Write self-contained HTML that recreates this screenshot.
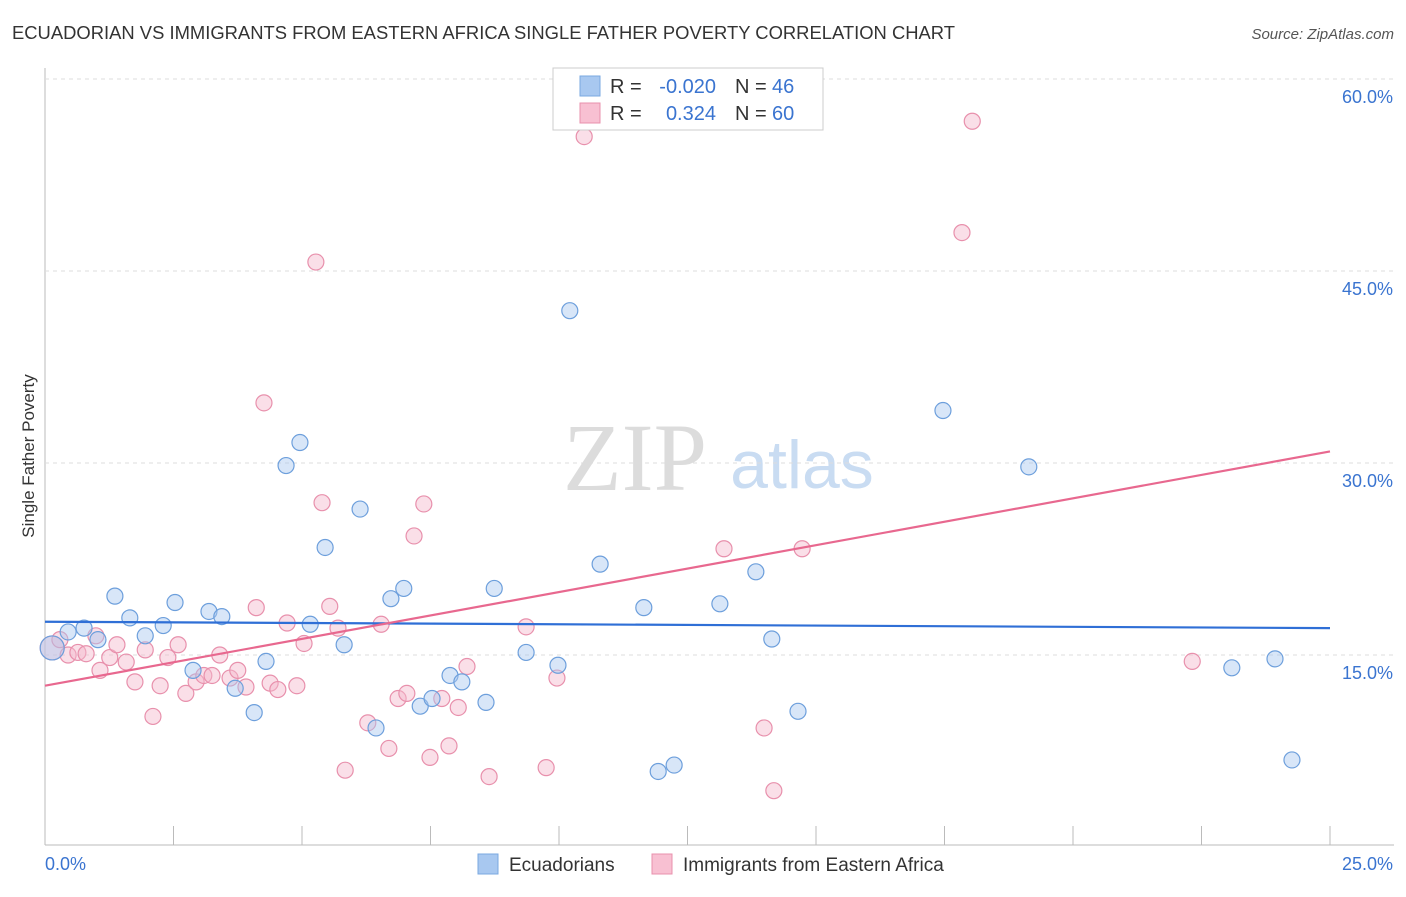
<!DOCTYPE html>
<html><head><meta charset="utf-8"><style>
body{margin:0;background:#fff;font-family:"Liberation Sans",sans-serif;}
</style></head><body>
<svg id="c" width="1406" height="892" style="font-family:'Liberation Sans',sans-serif">
<text x="12" y="39" font-size="18" fill="#333" textLength="943" lengthAdjust="spacingAndGlyphs">ECUADORIAN VS IMMIGRANTS FROM EASTERN AFRICA SINGLE FATHER POVERTY CORRELATION CHART</text>
<text x="1394" y="39" font-size="15" fill="#555" font-style="italic" text-anchor="end">Source: ZipAtlas.com</text>
<text x="34" y="456" font-size="17" fill="#333" text-anchor="middle" transform="rotate(-90 34 456)">Single Father Poverty</text>
<g><text x="635" y="490" font-size="96" fill="#dcdcdc" text-anchor="middle" style="font-family:'Liberation Serif',serif">ZIP</text><text x="802" y="488" font-size="68" fill="#c9dcf2" text-anchor="middle">atlas</text></g>
<g id="grid"></g><g id="marks"></g>
<g>
<rect x="553" y="68" width="270" height="62" fill="#fff" stroke="#ccc"/>
<rect x="580" y="76" width="20" height="20" fill="#a8c8f0" stroke="#7aa8e0"/>
<rect x="580" y="103" width="20" height="20" fill="#f8c0d2" stroke="#e890ac"/>
<text x="610" y="93" font-size="20" fill="#333">R =</text>
<text x="716" y="93" font-size="20" fill="#3a74d0" text-anchor="end">-0.020</text>
<text x="735" y="93" font-size="20" fill="#333">N =</text>
<text x="772" y="93" font-size="20" fill="#3a74d0">46</text>
<text x="610" y="120" font-size="20" fill="#333">R =</text>
<text x="716" y="120" font-size="20" fill="#3a74d0" text-anchor="end">0.324</text>
<text x="735" y="120" font-size="20" fill="#333">N =</text>
<text x="772" y="120" font-size="20" fill="#3a74d0">60</text>
</g>
<g>
<rect x="478" y="854" width="20" height="20" fill="#a8c8f0" stroke="#7aa8e0"/>
<text x="509" y="871" font-size="19" fill="#333">Ecuadorians</text>
<rect x="652" y="854" width="20" height="20" fill="#f8c0d2" stroke="#e890ac"/>
<text x="683" y="871" font-size="19" fill="#333">Immigrants from Eastern Africa</text>
</g>
</svg>
<script>
const xTicks=[0,2.5,5,7.5,10,12.5,15,17.5,20,22.5,25];
const yTicks=[15,30,45,60];
const yTickLabels=["15.0%","30.0%","45.0%","60.0%"];
const blueX=[0.14,0.45,0.76,1.03,1.36,1.65,1.95,2.30,2.53,2.88,3.19,3.44,3.70,4.07,4.30,4.69,4.96,5.16,5.45,5.82,6.13,6.44,6.73,6.98,7.30,7.53,7.88,8.11,8.58,8.74,9.36,9.98,10.21,10.80,11.65,11.93,12.24,13.13,13.83,14.14,14.65,17.47,19.14,23.09,23.93,24.26];
const blueY=[15.55,16.8,17.1,16.2,19.6,17.9,16.5,17.3,19.1,13.8,18.4,18.0,12.4,10.5,14.5,29.8,31.6,17.4,23.4,15.8,26.4,9.3,19.4,20.2,11.0,11.6,13.4,12.9,11.3,20.2,15.2,14.2,41.9,22.1,18.7,5.9,6.4,19.0,21.5,16.25,10.6,34.1,29.7,14.0,14.7,6.8];
const pinkX=[0.14,0.29,0.45,0.64,0.80,0.99,1.07,1.26,1.40,1.58,1.75,1.95,2.10,2.24,2.39,2.59,2.74,2.94,3.09,3.25,3.40,3.60,3.75,3.91,4.11,4.26,4.38,4.53,4.71,4.90,5.04,5.27,5.39,5.54,5.70,5.84,6.28,6.54,6.69,6.87,7.04,7.18,7.37,7.49,7.72,7.86,8.04,8.21,8.64,9.36,9.75,9.96,10.49,13.21,13.99,14.18,14.73,17.84,18.04,22.32];
const pinkY=[15.55,16.2,15.0,15.2,15.1,16.5,13.8,14.8,15.8,14.45,12.9,15.4,10.2,12.6,14.8,15.8,12.0,12.9,13.4,13.4,15.0,13.2,13.8,12.5,18.7,34.7,12.8,12.3,17.5,12.6,15.9,45.7,26.9,18.8,17.1,6.0,9.7,17.4,7.7,11.6,12.0,24.3,26.8,7.0,11.6,7.9,10.9,14.1,5.5,17.2,6.2,13.2,55.5,23.3,9.3,4.4,23.3,48.0,56.7,14.5];
const blueTrend=[17.6,17.1];
const pinkTrend=[12.6,30.9];
const NS="http://www.w3.org/2000/svg";
const X=v=>45+v*51.4, Y=v=>847-v*12.8;
function mk(t,a,p){const e=document.createElementNS(NS,t);for(const k in a)e.setAttribute(k,a[k]);p.appendChild(e);return e;}
const g=document.getElementById('grid'), m=document.getElementById('marks');
const ax=mk('line',{x1:45,y1:845,x2:1394,y2:845,stroke:'#bbb'},g);


const ay=mk('line',{x1:45,y1:68,x2:45,y2:845,stroke:'#bbb'},g);


xTicks.forEach(t=>{const l=mk('line',{x1:X(t),y1:826,x2:X(t),y2:845,stroke:'#bbb'},g);

});
yTicks.forEach((t,i)=>{const l=mk('line',{x1:45,y1:Y(t),x2:1394,y2:Y(t),stroke:'#ddd','stroke-dasharray':'4,4'},g);


const tx=mk('text',{x:1393,y:Y(t)+24,'font-size':18,fill:'#3a74d0','text-anchor':'end'},g);tx.textContent=yTickLabels[i];

});
const x0=mk('text',{x:45,y:870,'font-size':18,fill:'#3a74d0'},g);x0.textContent='0.0%';


const x1=mk('text',{x:1393,y:870,'font-size':18,fill:'#3a74d0','text-anchor':'end'},g);x1.textContent='25.0%';


function pts(xs,ys,fill,stroke,name){xs.forEach((x,i)=>{const c=mk('circle',{cx:X(x),cy:Y(ys[i]),r:i==0?12:8,fill:fill,'fill-opacity':0.45,stroke:stroke,'stroke-width':1.2},m);

});}
pts(pinkX,pinkY,'#f5b8cc','#e890ac','eastern-africa-point');
pts(blueX,blueY,'#a8c8f0','#6d9fdc','ecuadorian-point');
const bl=mk('line',{x1:X(0),y1:Y(blueTrend[0]),x2:X(25),y2:Y(blueTrend[1]),stroke:'#2f6fd6','stroke-width':2.2},m);


const pl=mk('line',{x1:X(0),y1:Y(pinkTrend[0]),x2:X(25),y2:Y(pinkTrend[1]),stroke:'#e8688f','stroke-width':2.2},m);


</script>
</body></html>
